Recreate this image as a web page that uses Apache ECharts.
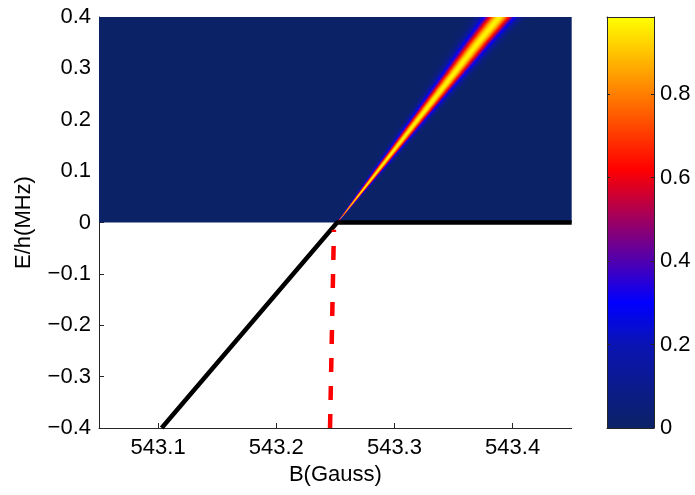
<!DOCTYPE html>
<html>
<head>
<meta charset="utf-8">
<script src="https://cdn.jsdelivr.net/npm/echarts@6/dist/echarts.min.js"></script>
<style>
  html, body { margin: 0; padding: 0; background: #fff; }
  #chart { width: 695px; height: 495px; }
</style>
</head>
<body>
<div id="chart"></div>
<script>
// Axis extents and tick positions
const bRange = [543.05, 543.45];
const eRange = [-0.4, 0.4];
const bTicks = [543.1, 543.2, 543.3, 543.4];
const cbRange = [0, 0.985];
const cbTicks = [0, 0.2, 0.4, 0.6, 0.8];

// Spectral ridge above threshold: energy (MHz), centre field (G),
// Gaussian width (G) and peak intensity of each sampled row
const ridgeE     = [0,       0.025,   0.05,    0.1,     0.15,    0.2,     0.25,    0.3,     0.35,    0.4];
const ridgeB     = [543.2515, 543.26, 543.2685, 543.2855, 543.3025, 543.3195, 543.3365, 543.3535, 543.3705, 543.3885];
const ridgeWidth = [0.0003,  0.0008,  0.0013,  0.0023,  0.0032,  0.0042,  0.0052,  0.0063,  0.0074,  0.0085];
const ridgePeak  = [0.85,    0.95,    0.97,    0.97,    0.97,    0.97,    0.97,    0.97,    0.97,    0.97];

// Bound-state branch joining the threshold (black)
const boundB = [543.103, 543.2515, 543.45];
const boundE = [-0.4, 0, 0];
// Molecular level just below threshold (red dashed)
const dashB = [543.2455, 543.2488];
const dashE = [-0.4, -0.014];

// Colour map (value -> colour)
const cmapPos    = [0, 0.2, 0.3, 0.62, 0.985];
const cmapColors = ['#0c2266', '#0a14b4', '#0000ff', '#ff0000', '#ffff00'];

const FONT = "'Liberation Sans', Arial, Helvetica, sans-serif";
const INK = '#000';
const AXIS = '#262626';

function hexToRgb(h) {
  return [parseInt(h.slice(1, 3), 16), parseInt(h.slice(3, 5), 16), parseInt(h.slice(5, 7), 16)];
}
const cmapRgb = cmapColors.map(hexToRgb);
function colorAt(v) {
  if (v <= cmapPos[0]) return cmapColors[0];
  const last = cmapPos.length - 1;
  if (v >= cmapPos[last]) return cmapColors[last];
  let i = 0;
  while (v > cmapPos[i + 1]) i++;
  const t = (v - cmapPos[i]) / (cmapPos[i + 1] - cmapPos[i]);
  const a = cmapRgb[i], b = cmapRgb[i + 1];
  const c = a.map((x, k) => Math.round(x + (b[k] - x) * t));
  return 'rgb(' + c.join(',') + ')';
}

function lerpTable(xs, ys, x) {
  if (x <= xs[0]) return ys[0];
  for (let i = 0; i < xs.length - 1; i++) {
    if (x <= xs[i + 1]) {
      const t = (x - xs[i]) / (xs[i + 1] - xs[i]);
      return ys[i] + (ys[i + 1] - ys[i]) * t;
    }
  }
  return ys[ys.length - 1];
}

// Rows of the field image (one per energy step)
const dE = 0.002;
const ridgeRows = [];
for (let e = dE / 2; e < eRange[1]; e += dE) {
  ridgeRows.push([
    lerpTable(ridgeE, ridgeB, e),
    e,
    lerpTable(ridgeE, ridgeWidth, e),
    lerpTable(ridgeE, ridgePeak, e)
  ]);
}

const SAMPLES = 64;
const SPAN = 3.6;
function renderRidge(params, api) {
  const bc = api.value(0), e = api.value(1), s = api.value(2), pk = api.value(3);
  const half = SPAN * s;
  const p0 = api.coord([bc - half, e + dE / 2]);
  const p1 = api.coord([bc + half, e - dE / 2]);
  const stops = [];
  for (let i = 0; i <= SAMPLES; i++) {
    const t = i / SAMPLES;
    const x = (2 * t - 1) * half;
    const v = pk * Math.exp(-(x * x) / (2 * s * s));
    stops.push({ offset: t, color: colorAt(v) });
  }
  return {
    type: 'rect',
    shape: { x: p0[0], y: p0[1] - 0.4, width: p1[0] - p0[0], height: p1[1] - p0[1] + 0.8 },
    style: { fill: { type: 'linear', x: 0, y: 0, x2: 1, y2: 0, colorStops: stops } }
  };
}

function renderField(params, api) {
  const p0 = api.coord([api.value(0), api.value(3)]);
  const p1 = api.coord([api.value(2), api.value(1)]);
  return {
    type: 'rect',
    shape: { x: p0[0], y: p0[1], width: p1[0] - p0[0], height: p1[1] - p0[1] },
    style: { fill: colorAt(0) }
  };
}

function renderColorbar(params, api) {
  const p0 = api.coord([0, api.value(1)]);
  const p1 = api.coord([1, api.value(0)]);
  const stops = cmapPos.map((p, i) => ({ offset: p / cbRange[1], color: cmapColors[i] }));
  return {
    type: 'rect',
    shape: { x: p0[0], y: p0[1], width: p1[0] - p0[0], height: p1[1] - p0[1] },
    style: { fill: { type: 'linear', x: 0, y: 1, x2: 0, y2: 0, colorStops: stops } }
  };
}

function signed(v, digits) {
  if (Math.abs(v) < 1e-9) return '0';
  const s = Math.abs(v).toFixed(digits);
  return v < 0 ? '\u2212' + s : s;
}

const labelStyle = { color: INK, fontFamily: FONT, fontSize: 22 };
const frameLine = { show: true, onZero: false, lineStyle: { color: AXIS, width: 1 } };

const chart = echarts.init(document.getElementById('chart'), null, { renderer: 'canvas' });
chart.setOption({
  animation: false,
  backgroundColor: '#fff',
  grid: [
    { left: 99, top: 17, width: 472.7, height: 411 },
    { left: 607, top: 17, width: 47, height: 411 }
  ],
  xAxis: [
    {
      gridIndex: 0, type: 'value', min: bRange[0], max: bRange[1],
      name: 'B(Gauss)', nameLocation: 'middle', nameGap: 36,
      nameTextStyle: labelStyle,
      axisLine: frameLine,
      axisTick: { show: true, inside: true, length: 5, customValues: bTicks, lineStyle: { color: AXIS } },
      axisLabel: Object.assign({ margin: 9, customValues: bTicks, formatter: v => v.toFixed(1) }, labelStyle),
      splitLine: { show: false }
    },
    {
      gridIndex: 1, type: 'value', min: 0, max: 1, position: 'bottom', z: 10,
      axisLine: frameLine,
      axisTick: { show: false }, axisLabel: { show: false }, splitLine: { show: false }
    },
    {
      gridIndex: 1, type: 'value', min: 0, max: 1, position: 'top', z: 10,
      axisLine: frameLine,
      axisTick: { show: false }, axisLabel: { show: false }, splitLine: { show: false }
    }
  ],
  yAxis: [
    {
      gridIndex: 0, type: 'value', min: eRange[0], max: eRange[1], interval: 0.1,
      name: 'E/h(MHz)', nameLocation: 'middle', nameGap: 64,
      nameTextStyle: labelStyle,
      axisLine: frameLine,
      axisTick: { show: true, inside: true, length: 5, lineStyle: { color: AXIS } },
      axisLabel: Object.assign({ margin: 8, formatter: v => signed(v, 1) }, labelStyle),
      splitLine: { show: false }
    },
    {
      gridIndex: 1, type: 'value', min: cbRange[0], max: cbRange[1], position: 'left', z: 10,
      axisLine: frameLine,
      axisTick: { show: true, inside: true, length: 3, customValues: cbTicks, lineStyle: { color: AXIS } },
      axisLabel: { show: false }, splitLine: { show: false }
    },
    {
      gridIndex: 1, type: 'value', min: cbRange[0], max: cbRange[1], position: 'right', z: 10,
      axisLine: frameLine,
      axisTick: { show: true, inside: true, length: 3, customValues: cbTicks, lineStyle: { color: AXIS } },
      axisLabel: Object.assign({ margin: 6, customValues: cbTicks, formatter: v => signed(v, 1) }, labelStyle),
      splitLine: { show: false }
    }
  ],
  series: [
    {
      type: 'custom', xAxisIndex: 0, yAxisIndex: 0, clip: true, silent: true,
      renderItem: renderField,
      data: [[bRange[0], 0, bRange[1], eRange[1]]],
      z: 1
    },
    {
      type: 'custom', xAxisIndex: 0, yAxisIndex: 0, clip: true, silent: true,
      renderItem: renderRidge,
      encode: { x: 0, y: 1 },
      data: ridgeRows,
      z: 2
    },
    {
      type: 'line', xAxisIndex: 0, yAxisIndex: 0, clip: true, silent: true,
      data: boundB.map((b, i) => [b, boundE[i]]),
      symbol: 'none',
      lineStyle: { color: '#000', width: 4.5 },
      z: 3
    },
    {
      type: 'line', xAxisIndex: 0, yAxisIndex: 0, clip: true, silent: true,
      data: dashB.map((b, i) => [b, dashE[i]]),
      symbol: 'none',
      lineStyle: { color: '#ff0000', width: 4.5, type: [14, 14], cap: 'butt' },
      z: 3
    },
    {
      type: 'custom', xAxisIndex: 1, yAxisIndex: 1, clip: true, silent: true,
      renderItem: renderColorbar,
      data: [[cbRange[0], cbRange[1]]],
      z: 1
    }
  ]
});
</script>
</body>
</html>
